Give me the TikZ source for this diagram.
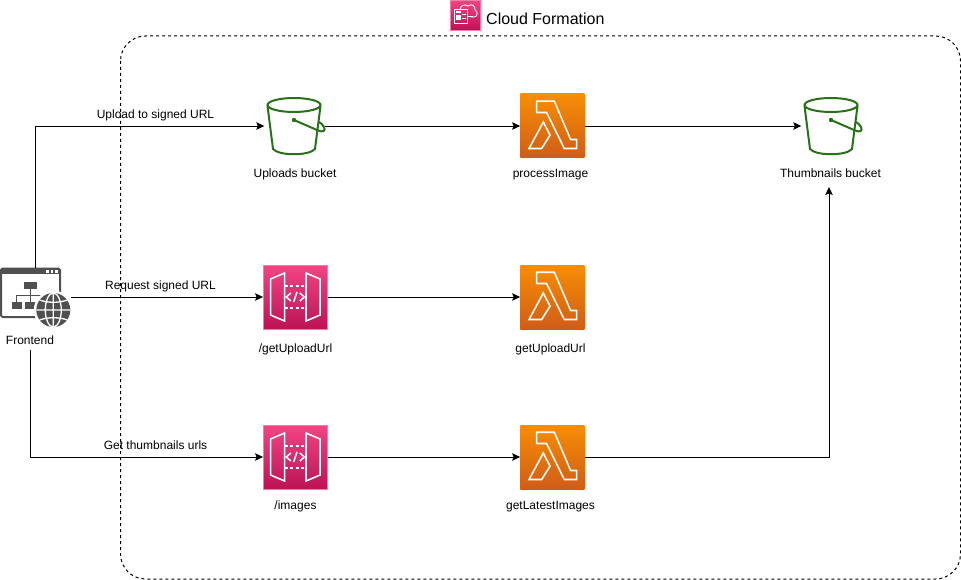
\documentclass[tikz,border=0pt]{standalone}
\usepackage{fontspec}
\usetikzlibrary{arrows.meta}
\setmainfont{Liberation Sans}
\definecolor{bucketgreen}{HTML}{277116}
\definecolor{lambdatop}{HTML}{F78E04}
\definecolor{lambdabottom}{HTML}{D05C17}
\definecolor{pinktop}{HTML}{F34482}
\definecolor{pinkbottom}{HTML}{BC1356}
\definecolor{frontgray}{HTML}{505050}
\tikzset{
  lbl/.style={font=\fontsize{12}{14}\selectfont,inner sep=1pt,text height=9pt,text depth=3pt},
  lambdabox/.style={inner sep=0pt,minimum size=64pt,top color=lambdatop,bottom color=lambdabottom},
  pinkbox/.style={inner sep=0pt,minimum size=64pt,top color=pinktop,bottom color=pinkbottom,draw=pinktop!70!white,line width=0.5pt},
  bucketbox/.style={inner sep=0pt,minimum width=60pt,minimum height=64pt},
  conn/.style={-{Stealth[length=8pt,width=7.5pt,inset=1.5pt]},line width=0.9pt},
  bucketicon/.pic={
    \begin{scope}[xshift=-0.5pt,draw=bucketgreen,line width=2pt]
    \draw (0,-21) ellipse (26.5pt and 7pt);
    \draw (-26.5,-20) -- (-21,23) .. controls (-15,30) and (15,30) .. (21,23) -- (26.5,-20);
    \fill[bucketgreen] (0,-6) circle (2.2pt);
    \draw (0,-6) -- (23,4) .. controls (29,7) and (32,5) .. (30,1) .. controls (29,-1) and (27,-3) .. (25,-4);
    \end{scope}
  },
  lambdaicon/.pic={
    \draw[white,line width=1.6pt,line join=miter] (-15.7,-24.8) -- (2,-24.8) -- (18.3,13.5) -- (24.3,13.5) -- (24.3,22.5) -- (12,22.5) -- (-5.7,-13.5) -- (-15.7,-13.5) -- cycle;
    \draw[white,line width=1.6pt] (-9,-4) -- (-2.3,9.2) -- (-10.7,22.5) -- (-23.3,22.5) -- cycle;
  },
  gatewayicon/.pic={
    \draw[white,line width=1.6pt] (-24.7,-18) -- (-10.7,-24) -- (-10.7,24) -- (-24.7,18) -- cycle;
    \draw[white,line width=1.6pt] (10.7,-24) -- (24.7,-18) -- (24.7,18) -- (10.7,24) -- cycle;
    \draw[white,line width=1.6pt,dash pattern=on 3pt off 2.5pt] (-10.7,-11) -- (10.7,-11);
    \draw[white,line width=1.6pt,dash pattern=on 3pt off 2.5pt] (-10.7,11) -- (10.7,11);
    \draw[white,line width=1.6pt] (-4.5,-4) -- (-9,0) -- (-4.5,4);
    \draw[white,line width=1.6pt] (4.5,-4) -- (9,0) -- (4.5,4);
    \draw[white,line width=1.6pt] (-1.7,5) -- (1.7,-5);
  },
  formationicon/.pic={
    \draw[white,line width=0.9pt] (-11,-6) -- (-11,8) -- (2,8) -- (2,-6) -- cycle;
    \draw[white,line width=0.9pt] (-5,-6) .. controls (-4,-10) and (0,-11) .. (3,-9) .. controls (6,-12) and (11,-9) .. (10,-5) .. controls (13,-4) and (13,2) .. (9,2) -- (6,2);
    \draw[white,line width=0.9pt] (2,1) -- (8,1);
    \fill[white] (-9,-4) rectangle (-4.5,-2);
    \fill[white] (-9,0) rectangle (-4.5,5);
    \fill[white] (-3.5,-1) rectangle (0.5,0);
    \fill[white] (-3.5,3) rectangle (0.5,4);
  },
  browsericon/.pic={
    \draw[frontgray,line width=2pt,rounded corners=1.5pt] (-34.5,-28.5) rectangle (24.5,20);
    \fill[frontgray] (-34.5,-28.5) rectangle (24.5,-23);
    \fill[white] (10.5,-27) rectangle (13,-24.5);
    \fill[white] (15,-27) rectangle (17.5,-24.5);
    \fill[white] (19.5,-27) rectangle (22,-24.5);
    \fill[frontgray] (-11.5,-15.3) rectangle (1.2,-8);
    \fill[frontgray] (-23.8,4.7) rectangle (-13.8,12.3);
    \fill[frontgray] (-10.5,4.7) rectangle (0.5,12.3);
    \draw[frontgray,line width=1.2pt] (-5,-8) -- (-5,4.7) (-18.8,4.7) -- (-18.8,-1.3) -- (14,-1.3);
    \fill[white] (17.8,13) circle (19.5pt);
    \fill[frontgray] (17.8,13) circle (17pt);
    \draw[white,line width=1.3pt] (17.8,13) ellipse (8pt and 17pt) (17.8,-4) -- (17.8,30) (0.8,13) -- (34.8,13);
    \draw[white,line width=1.3pt] (4,3) .. controls (12,6) and (24,6) .. (32,3) (4,23) .. controls (12,20) and (24,20) .. (32,23);
  }
}
\begin{document}
\begin{tikzpicture}[x=1pt,y=-1pt]
\useasboundingbox (0,0) rectangle (961,580);
\draw[dash pattern=on 3pt off 3pt,line width=1pt,rounded corners=25pt] (120.5,36) rectangle (960.5,579);
\node[pinkbox,minimum size=30pt] (formation) at (465,15) {};
\pic at (formation) {formationicon};
\node[anchor=west,font=\fontsize{16}{18}\selectfont,inner sep=0pt] (formationlabel) at (486,18.5) {Cloud Formation};
%
\node[inner sep=0pt,minimum width=71pt,minimum height=58pt] (frontend) at (35.5,297) {};
\pic at (frontend) {browsericon};
\node[lbl,inner sep=3pt] (frontendlabel) at (30,341) {Frontend};
%
\node[bucketbox] (uploads) at (294.5,126) {};
\pic at (uploads) {bucketicon};
\node[lbl] (uploadslabel) at (295,175) {Uploads bucket};
\node[lambdabox] (process) at (552.3,126) {};
\pic at (process) {lambdaicon};
\node[lbl] (processlabel) at (550.5,175) {processImage};
\node[bucketbox] (thumbs) at (831.5,126) {};
\pic at (thumbs) {bucketicon};
\node[lbl] (thumbslabel) at (830.5,175) {Thumbnails bucket};
\coordinate (thumbsin) at (829,187);
%
\node[pinkbox] (geturlapi) at (295.3,297) {};
\pic at (geturlapi) {gatewayicon};
\node[lbl] (geturlapilabel) at (295.5,349) {/getUploadUrl};
\node[lambdabox] (geturl) at (552.3,297) {};
\pic at (geturl) {lambdaicon};
\node[lbl] (geturllabel) at (550.5,349) {getUploadUrl};
%
\node[pinkbox] (imagesapi) at (295.3,457) {};
\pic at (imagesapi) {gatewayicon};
\node[lbl] (imagesapilabel) at (295.5,506) {/images};
\node[lambdabox] (latest) at (552.3,457) {};
\pic at (latest) {lambdaicon};
\node[lbl] (latestlabel) at (550.5,506) {getLatestImages};
%
\draw[conn] (frontend.north) |- (uploads.west);
\draw[conn] (frontend.east) -- (geturlapi.west);
\draw[conn] (frontendlabel.south) |- (imagesapi.west);
\draw[conn] (uploads.east) -- (process.west);
\draw[conn] (process.east) -- (thumbs.west);
\draw[conn] (geturlapi.east) -- (geturl.west);
\draw[conn] (imagesapi.east) -- (latest.west);
\draw[conn] (latest.east) -| (thumbsin);
%
\node[lbl] (uploadtext) at (155.5,116) {Upload to signed URL};
\node[lbl] (requesttext) at (160.5,286) {Request signed URL};
\node[lbl] (gettext) at (155.5,446) {Get thumbnails urls};
\end{tikzpicture}
\end{document}
